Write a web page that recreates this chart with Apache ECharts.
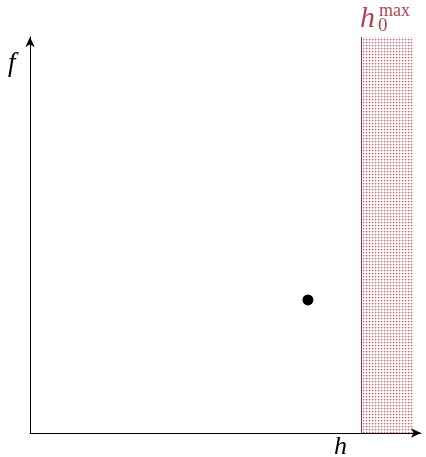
<!DOCTYPE html>
<html>
<head>
<meta charset="utf-8">
<script src="https://cdn.jsdelivr.net/npm/echarts@6/dist/echarts.min.js"></script>
<style>html,body{margin:0;padding:0;background:#fff;}#c{width:426px;height:457px;}</style>
</head>
<body>
<div id="c"></div>
<script>
// data
var xRange = [0, 10.2];
var yRange = [0, 10];
var point = [7.25, 3.36];
var region = [8.64, 10];       // h0max band on x
var regionY = [0, 10];
var labels = { x: 'h', y: 'f', band: 'h', bandSub: '0', bandSup: 'max' };

var pc = document.createElement('canvas');
pc.width = 3; pc.height = 3;
var g = pc.getContext('2d');
g.fillStyle = 'rgba(200,50,70,0.75)'; g.fillRect(0,0,1,1);
g.fillStyle = 'rgba(200,50,70,0.3)'; g.fillRect(1,0,1,1); g.fillRect(0,1,1,1);
g.fillStyle = 'rgba(200,50,70,0.08)'; g.fillRect(2,0,1,1); g.fillRect(0,2,1,1);

var chart = echarts.init(document.getElementById('c'), null, {renderer: 'canvas'});
var axisCommon = {
  axisLine: { show: true, symbol: ['none', 'arrow'], symbolSize: [7, 10], lineStyle: { color: '#000', width: 1 } },
  axisTick: { show: false }, axisLabel: { show: false }, splitLine: { show: false }
};
var red = '#b5434f';
function txt(t, l, tp, size, italic, color) {
  return { type: 'text', left: l, top: tp, style: { text: t, fontFamily: 'Liberation Serif', fontSize: size, fontStyle: italic ? 'italic' : 'normal', fill: color } };
}
function build() {
  return {
  animation: false,
  grid: { left: 30, top: 37, right: 5, bottom: 24 },
  xAxis: Object.assign({ type: 'value', min: xRange[0], max: xRange[1] }, axisCommon),
  yAxis: Object.assign({ type: 'value', min: yRange[0], max: yRange[1] }, axisCommon),
  series: [{
    type: 'scatter',
    data: [point],
    symbolSize: 11,
    itemStyle: { color: '#000', opacity: 1 },
    markArea: {
      silent: true,
      itemStyle: { color: { image: pc, repeat: 'repeat' } },
      data: [[{ xAxis: region[0], yAxis: regionY[0] }, { xAxis: region[1], yAxis: regionY[1] }]]
    },
    markLine: {
      silent: true, symbol: 'none', label: { show: false },
      lineStyle: { color: '#a8303c', width: 1, type: 'solid' },
      data: [[{ coord: [region[0], regionY[0]] }, { coord: [region[0], regionY[1]] }]]
    }
  }],
  graphic: [
    txt(labels.x + ' ', 334, 434, 26, true, '#000'),
    txt(labels.y + ' ', 8, 50, 27, true, '#000'),
    txt(labels.band + ' ', 360, 4, 30, true, red),
    txt(labels.bandSub, 378, 17, 19, false, red),
    txt(labels.bandSup, 379, 2, 18, false, red)
  ]
  };
}
chart.setOption(build());
function redraw() { chart.clear(); chart.setOption(build()); }
if (document.fonts && document.fonts.load) {
  document.fonts.load('italic 26px "Liberation Serif"').then(redraw, redraw);
}
setTimeout(redraw, 200);
</script>
</body>
</html>
